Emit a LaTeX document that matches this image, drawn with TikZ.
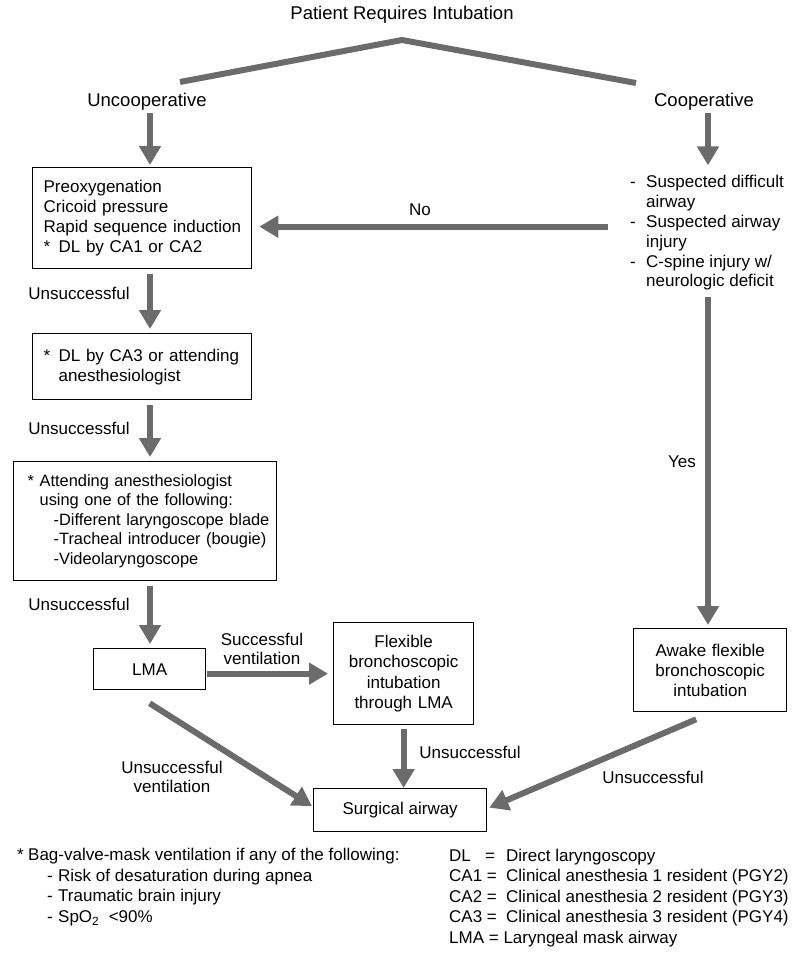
\documentclass[tikz,border=0pt]{standalone}
\usepackage{fontspec}
\setmainfont{Liberation Sans}
\usetikzlibrary{arrows.meta,calc}
\definecolor{arrgray}{HTML}{6B6B6B}
\begin{document}
\begin{tikzpicture}[x=1pt,y=-1pt,
  txt/.style={inner sep=0pt, font=\fontsize{17}{20}\selectfont},
  big/.style={inner sep=0pt, font=\fontsize{18.5}{22}\selectfont},
  box/.style={draw=black, line width=1.3pt, fill=white, inner sep=0pt, font=\fontsize{17}{20}\selectfont},
  arr/.style={draw=arrgray, line width=6pt, -{Triangle[width=21pt,length=19pt]}},
  roof/.style={draw=arrgray, line width=6pt}]
\useasboundingbox[fill=white] (0,0) rectangle (800,962);

% top
\node[big] (title) at (402,15) {Patient Requires Intubation};
\coordinate (rl) at (180,82);
\coordinate (apex) at (402,40);
\coordinate (rr) at (636,83);
\draw[roof] (rl) -- (apex) -- (rr);
\node[big] (unc) at (147,102) {Uncooperative};
\node[big] (coop) at (704,102) {Cooperative};

% left column boxes
\node[box, anchor=north west, minimum width=219pt, minimum height=101pt, text width=197pt, align=left] (b1) at (32,167)
 {\mbox{Preoxygenation}\\\mbox{Cricoid pressure}\\\mbox{Rapid sequence induction}\\\mbox{\makebox[15pt][l]{*}DL by CA1 or CA2}};
\node[box, anchor=north west, minimum width=219pt, minimum height=66pt, text width=197pt, align=left] (b2) at (32,333)
 {\mbox{\makebox[15pt][l]{*}DL by CA3 or attending}\\\mbox{\hspace{15pt}anesthesiologist}};
\node[box, anchor=north west, minimum width=263pt, minimum height=119pt, text width=235pt, align=left,
  font=\fontsize{16.4}{19.5}\selectfont] (b3) at (13,461)
 {\mbox{\makebox[12pt][l]{*}Attending anesthesiologist}\\
  \mbox{\hspace{12pt}using one of the following:}\\
  \mbox{\hspace{26pt}-Different laryngoscope blade}\\
  \mbox{\hspace{26pt}-Tracheal introducer (bougie)}\\
  \mbox{\hspace{26pt}-Videolaryngoscope}};
\node[box, anchor=north west, minimum width=112pt, minimum height=41pt] (lma) at (93,648) {LMA};
\node[box, anchor=north west, minimum width=140pt, minimum height=102pt, text width=140pt, align=center,
  font=\fontsize{17}{20.5}\selectfont] (flex) at (333,622)
 {Flexible\\bronchoscopic\\intubation\\through LMA};
\node[box, anchor=north west, minimum width=173pt, minimum height=43pt] (surg) at (313,788) {Surgical airway};

% right column
\node[txt, anchor=west, align=left, font=\fontsize{17}{19.8}\selectfont] (list) at (630,233)
 {\makebox[16pt][l]{-}Suspected difficult\\
  \hspace*{16pt}airway\\
  \makebox[16pt][l]{-}Suspected airway\\
  \hspace*{16pt}injury\\
  \makebox[16pt][l]{-}C-spine injury w/\\
  \hspace*{16pt}neurologic deficit};
\node[box, anchor=north west, minimum width=153pt, minimum height=83pt, text width=153pt, align=center] (awake) at (633,628)
 {Awake flexible\\bronchoscopic\\intubation};

% arrows
\coordinate (xl) at (150,0);
\coordinate (xr) at (708,0);
\draw[arr, shorten <=2.5pt, shorten >=2pt] (unc.south -| xl) -- (b1.north -| xl);
\draw[arr, shorten <=5pt, shorten >=4pt] (b1.south -| xl) -- (b2.north -| xl);
\draw[arr, shorten <=5pt, shorten >=4pt] (b2.south -| xl) -- (b3.north -| xl);
\draw[arr, shorten <=5pt, shorten >=4pt] (b3.south -| xl) -- (lma.north -| xl);
\coordinate (lmaout) at ($(lma.east)+(0,4.5)$);
\draw[arr, shorten <=1pt, shorten >=5pt] (lmaout) -- (lmaout -| flex.west);
\draw[arr] ($(lma.south)+(0,13)$) -- ($(surg.west)+(-1,-4)$);
\draw[arr, shorten <=4pt] (flex.south) -- (flex.south |- surg.north);
\draw[arr] ($(awake.south)+(-14,7)$) -- ($(surg.east)+(2,-2.5)$);
\draw[arr, shorten <=2.5pt, shorten >=10pt] (coop.south -| xr) -- (list.north -| xr);
\draw[arr, shorten <=6pt, shorten >=3pt] (list.south -| xr) -- (awake.north -| xr);
\coordinate (notip) at ($(b1.east)+(0,8.5)$);
\draw[arr, shorten <=22pt, shorten >=7pt] (list.west |- notip) -- (notip);

% labels
\node[txt] (lno) at (420,210) {No};
\node[txt] (lyes) at (682,462) {Yes};
\node[txt] (lu1) at (79,293) {Unsuccessful};
\node[txt] (lu2) at (79,428) {Unsuccessful};
\node[txt] (lu3) at (79,604) {Unsuccessful};
\node[txt, align=center, font=\fontsize{17}{19}\selectfont] (lsv) at (262,649) {Successful\\ventilation};
\node[txt, align=center, font=\fontsize{17}{19}\selectfont] (luv) at (172,777) {Unsuccessful\\ventilation};
\node[txt] (lu4) at (470,752) {Unsuccessful};
\node[txt] (lu5) at (653,777) {Unsuccessful};

% legends
\node[txt, anchor=west, align=left, font=\fontsize{17}{20.7}\selectfont] (leg1) at (17,887)
 {\makebox[11pt][l]{*}Bag-valve-mask ventilation if any of the following:\\
  \hspace*{30pt}\makebox[11pt][l]{-}Risk of desaturation during apnea\\
  \hspace*{30pt}\makebox[11pt][l]{-}Traumatic brain injury\\
  \hspace*{30pt}\makebox[11pt][l]{-}SpO\textsubscript{2}\ \ <90\%};
\node[txt, anchor=west, align=left, font=\fontsize{17}{20.5}\selectfont] (leg2) at (449,898)
 {\makebox[36pt][l]{DL}\makebox[21pt][l]{=}Direct laryngoscopy\\
  \makebox[57pt][l]{CA1 =}Clinical anesthesia 1 resident (PGY2)\\
  \makebox[57pt][l]{CA2 =}Clinical anesthesia 2 resident (PGY3)\\
  \makebox[57pt][l]{CA3 =}Clinical anesthesia 3 resident (PGY4)\\
  LMA = Laryngeal mask airway};
\end{tikzpicture}
\end{document}
